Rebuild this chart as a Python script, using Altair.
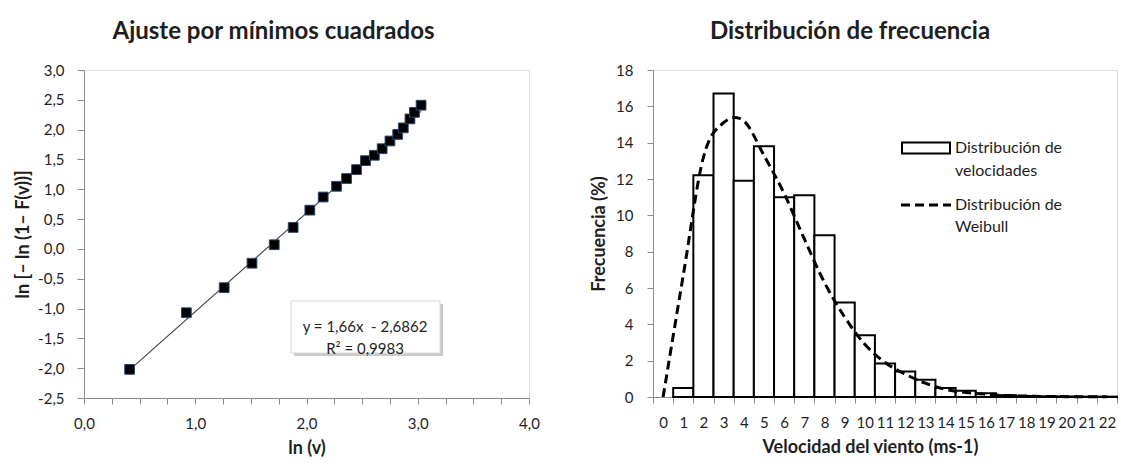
import altair as alt
import pandas as pd

# ---------------- data: left chart (least squares fit) ----------------
ln_v = [0.41, 0.92, 1.26, 1.51, 1.71, 1.88, 2.03, 2.15, 2.27, 2.36,
        2.45, 2.53, 2.61, 2.68, 2.75, 2.82, 2.87, 2.93, 2.97, 3.03]
ln_y = [-2.02, -1.07, -0.65, -0.24, 0.07, 0.36, 0.65, 0.87, 1.05, 1.18,
        1.33, 1.48, 1.57, 1.68, 1.81, 1.92, 2.03, 2.18, 2.29, 2.41]
eq_text = "y = 1,66x\u00a0 - 2,6862\nR² = 0,9983"
x_ticks_left = [0, 0.25, 0.5, 0.75, 1, 1.25, 1.5, 1.75, 2, 2.25, 2.5, 2.75, 3, 3.25, 3.5, 3.75, 4]
y_ticks_left = [-2.5, -2.0, -1.5, -1.0, -0.5, 0.0, 0.5, 1.0, 1.5, 2.0, 2.5, 3.0]

# ---------------- data: right chart (frequency distribution) ----------------
vel_cats = [str(i) for i in range(23)]
freq_pct = [0, 0.5, 12.2, 16.7, 11.9, 13.8, 11.0, 11.1, 8.9, 5.2, 3.4, 1.85,
            1.4, 0.95, 0.5, 0.35, 0.2, 0.1, 0.06, 0.04, 0.03, 0.02, 0.02]
weibull_pct = [0, 6.7, 13.2, 15.1, 15.2, 13.3, 11.2, 8.7, 6.3, 4.4, 2.9, 1.9,
               1.26, 0.76, 0.42, 0.25, 0.15, 0.08, 0.05, 0.03, 0.02, 0.01, 0.01]
y_ticks_right = [0, 2, 4, 6, 8, 10, 12, 14, 16, 18]

FONT = "Lato"
TXT = "#1e1e1e"
AXC = "#8c8c8c"

dec = "((datum.value < 0 ? '-' : '') + replace(format(abs(datum.value), '.1f'), '.', ','))"

axis_common = dict(grid=False, domainColor=AXC, tickColor=AXC, labelFont=FONT, labelFontSize=15,
                   labelColor=TXT, titleFont=FONT, titleFontSize=18, titleFontWeight="bold",
                   titleColor=TXT)

# ---------------- left chart ----------------
left_df = pd.DataFrame({"lnv": ln_v, "lny": ln_y})
xL = alt.X("lnv:Q", scale=alt.Scale(domain=[0, 4], nice=False, zero=False),
           axis=alt.Axis(values=x_ticks_left, labelExpr="datum.value % 1 == 0 ? " + dec + " : ''",
                         title="ln (v)", tickSize=6, labelPadding=12, titlePadding=8,
                         labelFlush=False, labelOverlap=False, **axis_common))
yL = alt.Y("lny:Q", scale=alt.Scale(domain=[-2.5, 3.0], nice=False, zero=False),
           axis=alt.Axis(values=y_ticks_left, labelExpr=dec, title="ln [– ln (1– F(v))]",
                         tickSize=7, labelPadding=13, titlePadding=5, labelFlush=False,
                         labelOverlap=False, **axis_common))
base = alt.Chart(left_df).encode(x=xL, y=yL)
trend = base.transform_regression("lnv", "lny").mark_line(color="#404040", strokeWidth=1.1)
pts = base.mark_square(size=95, fill="black", stroke="#2b4570", strokeWidth=1, opacity=1)

eq_df = pd.DataFrame({"label": [eq_text]})
shadow = alt.Chart(eq_df).mark_rect(fill="#bdbdbd", opacity=0.8).encode(
    x=alt.value(210), x2=alt.value(359), y=alt.value(234), y2=alt.value(286))
box = alt.Chart(eq_df).mark_rect(fill="white", stroke="#d6d6d6", strokeWidth=1).encode(
    x=alt.value(207), x2=alt.value(356), y=alt.value(231), y2=alt.value(283))
eq = alt.Chart(eq_df).mark_text(font=FONT, fontSize=15, color=TXT, lineBreak="\n", lineHeight=22,
                                align="center", baseline="middle").encode(
    x=alt.value(281), y=alt.value(257), text="label:N")

left = alt.layer(trend, pts, shadow, box, eq).properties(
    width=445, height=328,
    title=alt.Title("Ajuste por mínimos cuadrados", font=FONT, fontSize=24, fontWeight="bold",
                    color=TXT, frame="group", anchor="middle", dx=-33, offset=0,
                    baseline="alphabetic"))

# ---------------- right chart ----------------
bar_df = pd.DataFrame({"vel": vel_cats[1:], "pct": freq_pct[1:], "serie": "Distribución de"})
line_df = pd.DataFrame({"vel": vel_cats, "pct": weibull_pct, "serie": "Distribución de"})

xR = alt.X("vel:O", sort=vel_cats,
           scale=alt.Scale(domain=vel_cats, paddingInner=0, paddingOuter=0),
           axis=alt.Axis(title="Velocidad del viento (ms-1)", labelAngle=0, tickBand="extent",
                         tickSize=6, labelPadding=12, titlePadding=8, labelOverlap=False,
                         titleX=217, **axis_common))
yR = alt.Y("pct:Q", scale=alt.Scale(domain=[0, 18], nice=False),
           axis=alt.Axis(values=y_ticks_right, format="d", title="Frecuencia (%)", tickSize=6,
                         labelPadding=14, titlePadding=7, labelFlush=False, **axis_common))

legA = alt.Legend(title=None, orient="none", legendX=265, legendY=70,
                  symbolType="M-4.8,-1.1H4.8V1.1H-4.8Z", symbolSize=100, symbolStrokeWidth=2,
                  symbolFillColor="white", labelFont=FONT, labelFontSize=16, labelColor=TXT,
                  labelOffset=21, rowPadding=3, padding=0, labelLimit=300)
legB = alt.Legend(title=None, orient="none", legendX=265, legendY=127,
                  symbolType="M-5,0H5", symbolSize=100, symbolStrokeWidth=3,
                  labelFont=FONT, labelFontSize=16, labelColor=TXT,
                  labelOffset=21, rowPadding=6, padding=0, labelLimit=300)

bars = alt.Chart(bar_df).mark_bar(fill="white", strokeWidth=2).encode(
    x=xR, y=yR,
    stroke=alt.Stroke("serie:N",
                      scale=alt.Scale(domain=["Distribución de", "velocidades"],
                                      range=["black", "transparent"]),
                      legend=legA))
curve = alt.Chart(line_df).mark_line(color="black", strokeWidth=3, interpolate="cardinal").encode(
    x=xR, y=yR,
    strokeDash=alt.StrokeDash("serie:N",
                              scale=alt.Scale(domain=["Distribución de", "Weibull"],
                                              range=[[9, 5], [0, 1000]]),
                              legend=legB))

right = alt.layer(bars, curve).properties(
    width=464, height=327,
    title=alt.Title("Distribución de frecuencia", font=FONT, fontSize=24, fontWeight="bold",
                    color=TXT, frame="group", anchor="middle", dx=-35, offset=0,
                    baseline="alphabetic"))

chart = alt.hconcat(left, right, spacing=124, bounds="flush").resolve_scale(
    x="independent", y="independent", stroke="independent", strokeDash="independent"
).properties(
    padding={"left": 14, "top": 19, "right": 0, "bottom": 0},
    background="white",
).configure_view(stroke="#a6a6a6", strokeWidth=1).configure(font=FONT)

chart.save("out.html", embed_options={"renderer": "svg", "actions": False})
